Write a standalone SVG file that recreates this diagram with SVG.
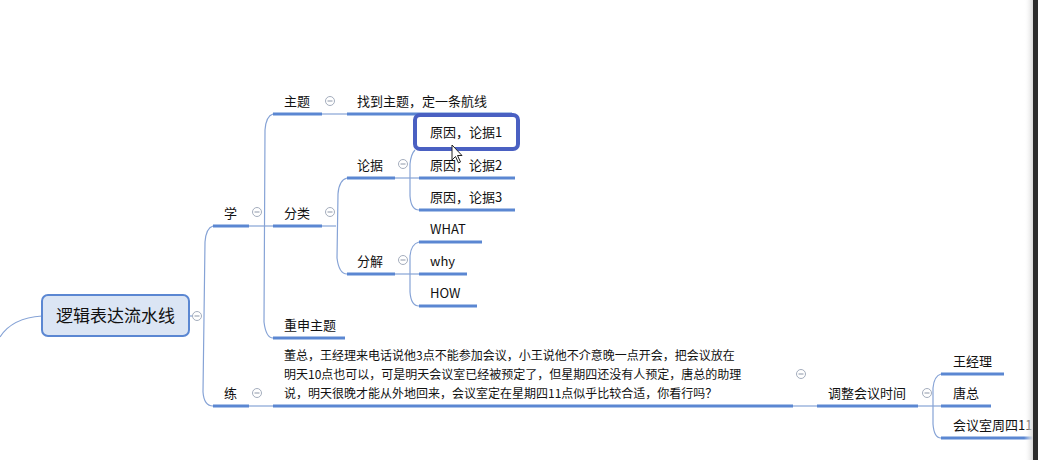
<svg xmlns="http://www.w3.org/2000/svg" width="1038" height="460" viewBox="0 0 1038 460">
<defs>
<style>
text{font-family:"Noto Sans CJK SC","Noto Sans",sans-serif;fill:#111;font-size:13px}
.ul{stroke:#5b87d2;stroke-width:3;fill:none}
.cn{stroke:#86a3d6;stroke-width:1.2;fill:none}
.cl{fill:#fff;stroke:#a4adbd;stroke-width:1}
.mn{stroke:#8d97a8;stroke-width:1}
.lt{font-size:12px}
</style>
<linearGradient id="sb" x1="0" x2="1" y1="0" y2="0">
<stop offset="0" stop-color="#ffffff" stop-opacity="0"/>
<stop offset="1" stop-color="#d8d8d8"/>
</linearGradient>
</defs>
<rect width="1038" height="460" fill="#fff"/>
<g id="connectors">
<path class="cn" d="M0 337 Q12 318 42 316"/>
<path class="cn" d="M189 316 L201 316"/>
<path class="cn" d="M213 226 Q206 228 205 242 L203 392 Q204 406 213 406"/>
<path class="cn" d="M249 226 L273 226"/>
<path class="cn" d="M273 114 Q266 116 265 130 L264 322 Q266 338 273 338"/>
<path class="cn" d="M249 406 L273 406"/>
<path class="cn" d="M322 114 L347 114"/>
<path class="cn" d="M322 226 L336 226"/>
<path class="cn" d="M347 178 Q339 180 338 194 L337 258 Q339 274 347 274"/>
<path class="cn" d="M395 178 L419 178"/>
<path class="cn" d="M415 150 Q411 154 410 164 L410 196 Q411 210 419 210"/>
<path class="cn" d="M395 274 L419 274"/>
<path class="cn" d="M419 242 Q411 244 410 256 L410 292 Q411 306 419 306"/>
<path class="cn" d="M793 406 L817 406"/>
<path class="cn" d="M918 406 L941 406"/>
<path class="cn" d="M941 374 Q934 376 933 388 L933 424 Q934 438 941 438"/>
</g>
<g id="root">
<rect x="42" y="295" width="147" height="41" rx="6" fill="#dbe5f4" stroke="#5b87d2" stroke-width="2"/>
<text x="115.5" y="322" text-anchor="middle" style="font-size:17px">逻辑表达流水线</text>
<circle class="cl" cx="197" cy="316" r="4.5"/><path class="mn" d="M194.5 316h5"/>
</g>
<g id="n-xue">
<text x="224" y="218">学</text>
<path class="ul" d="M213 226H249"/>
<circle class="cl" cx="257" cy="212" r="4.5"/><path class="mn" d="M254.5 212h5"/>
</g>
<g id="n-zhuti">
<text x="284" y="106">主题</text>
<path class="ul" d="M273 114H322"/>
<circle class="cl" cx="330" cy="101" r="4.5"/><path class="mn" d="M327.5 101h5"/>
</g>
<g id="n-zhaodao">
<text x="357" y="106">找到主题，定一条航线</text>
<path class="ul" d="M347 114H512"/>
</g>
<g id="n-fenlei">
<text x="284" y="218">分类</text>
<path class="ul" d="M273 226H322"/>
<circle class="cl" cx="330" cy="212" r="4.5"/><path class="mn" d="M327.5 212h5"/>
</g>
<g id="n-lunju">
<text x="357" y="170">论据</text>
<path class="ul" d="M347 178H395"/>
<circle class="cl" cx="403" cy="164" r="4.5"/><path class="mn" d="M400.5 164h5"/>
</g>
<g id="n-yuanyin1">
<rect x="415" y="115" width="103" height="34" rx="5" fill="#fff" stroke="#4a60c2" stroke-width="4"/>
<text x="430" y="137">原因，论据1</text>
</g>
<g id="n-yuanyin2">
<text x="430" y="170">原因，论据2</text>
<path class="ul" d="M419 178H515"/>
</g>
<g id="n-yuanyin3">
<text x="430" y="202">原因，论据3</text>
<path class="ul" d="M419 210H515"/>
</g>
<g id="n-fenjie">
<text x="357" y="266">分解</text>
<path class="ul" d="M347 274H395"/>
<circle class="cl" cx="403" cy="260" r="4.5"/><path class="mn" d="M400.5 260h5"/>
</g>
<g id="n-what">
<text x="430" y="234">WHAT</text>
<path class="ul" d="M419 242H482"/>
</g>
<g id="n-why">
<text x="430" y="266">why</text>
<path class="ul" d="M419 274H467"/>
</g>
<g id="n-how">
<text x="430" y="298">HOW</text>
<path class="ul" d="M419 306H477"/>
</g>
<g id="n-chongshen">
<text x="284" y="330">重申主题</text>
<path class="ul" d="M273 338H345"/>
</g>
<g id="n-lian">
<text x="224" y="398">练</text>
<path class="ul" d="M213 406H249"/>
<circle class="cl" cx="257" cy="393" r="4.5"/><path class="mn" d="M254.5 393h5"/>
</g>
<g id="n-case">
<text class="lt" x="284" y="360">董总，王经理来电话说他3点不能参加会议，小王说他不介意晚一点开会，把会议放在</text>
<text class="lt" x="284" y="379">明天10点也可以，可是明天会议室已经被预定了，但星期四还没有人预定，唐总的助理</text>
<text class="lt" x="284" y="398">说，明天很晚才能从外地回来，会议室定在星期四11点似乎比较合适，你看行吗？</text>
<path class="ul" d="M273 406H793"/>
<circle class="cl" cx="801" cy="374" r="4.5"/><path class="mn" d="M798.5 374h5"/>
</g>
<g id="n-tiaozheng">
<text x="828" y="398">调整会议时间</text>
<path class="ul" d="M817 406H918"/>
<circle class="cl" cx="927" cy="393" r="4.5"/><path class="mn" d="M924.5 393h5"/>
</g>
<g id="n-wang">
<text x="953" y="366">王经理</text>
<path class="ul" d="M941 374H1004"/>
</g>
<g id="n-tang">
<text x="953" y="398">唐总</text>
<path class="ul" d="M941 406H991"/>
</g>
<g id="n-huiyishi">
<text x="953" y="430">会议室周四11点</text>
<path class="ul" d="M941 438H1038"/>
</g>
<path d="M452 145 L452 160 L455.5 156.5 L458.5 163 L460.5 162 L457.5 155.5 L462 155.5 Z" fill="#fff" stroke="#222" stroke-width="1"/>
<rect x="1024" y="0" width="9" height="460" fill="url(#sb)"/>
<rect x="1033" y="0" width="5" height="460" fill="#2c2c2c"/>
</svg>
